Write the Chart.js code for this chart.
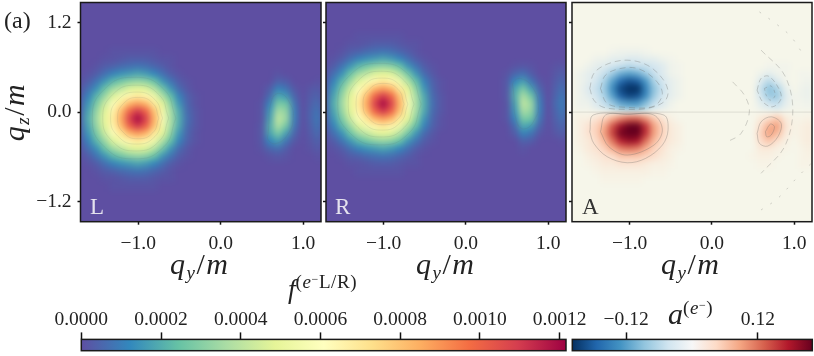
<!DOCTYPE html>
<html>
<head>
<meta charset="utf-8">
<script src="https://cdn.jsdelivr.net/npm/chart.js@4"></script>
<style>
  html, body { margin: 0; padding: 0; background: #fff; }
  body { width: 814px; height: 356px; overflow: hidden; position: relative; font-family: "Liberation Serif", serif; color: #222; }
  canvas { position: absolute; }
  .t { position: absolute; white-space: nowrap; line-height: 1; }
  .t i { font-style: italic; }
  .lab { font-size: 30px; letter-spacing: 1.5px; }
  .lab sub { font-size: 19px; font-style: italic; vertical-align: -5px; line-height: 0; }
  .sup { font-size: 19px; letter-spacing: 0.6px; vertical-align: 10px; line-height: 0; }
  .minus { font-size: 12px; vertical-align: 5px; }
</style>
</head>
<body>
<canvas id="panelL"></canvas>
<canvas id="panelR"></canvas>
<canvas id="panelA"></canvas>
<canvas id="barF"></canvas>
<canvas id="barA"></canvas>

<div class="t" style="left:4px;top:8px;font-size:24px">(a)</div>
<div class="t lab" style="left:-21px;top:97px;transform:rotate(-90deg);width:70px;text-align:center"><i>q</i><sub>z</sub>/<i>m</i></div>
<div class="t lab" style="left:170px;top:249px"><i>q</i><sub>y</sub>/<i>m</i></div>
<div class="t lab" style="left:416px;top:249px"><i>q</i><sub>y</sub>/<i>m</i></div>
<div class="t lab" style="left:661px;top:249px"><i>q</i><sub>y</sub>/<i>m</i></div>
<div class="t" style="left:288px;top:276px;font-size:27px"><i>f</i><span class="sup">(<i>e</i><span class="minus">−</span>L/R)</span></div>
<div class="t" style="left:668px;top:299px;font-size:30px"><i>a</i><span class="sup">(<i>e</i><span class="minus">−</span>)</span></div>
<div class="t" style="left:90px;top:195px;font-size:23px;color:#e4e2ee">L</div>
<div class="t" style="left:335px;top:195px;font-size:23px;color:#e4e2ee">R</div>
<div class="t" style="left:582px;top:195px;font-size:23px;color:#333">A</div>

<script>
// grid of the heat maps
const qyGrid = [-1.7,-1.6,-1.5,-1.4,-1.3,-1.2,-1.1,-1.0,-0.9,-0.8,-0.7,-0.6,-0.5,-0.4,-0.3,-0.2,-0.1,0,0.1,0.2,0.3,0.4,0.5,0.6,0.7,0.8,0.9,1.0,1.1,1.2];
const qzGrid = [1.0,0.9,0.8,0.7,0.6,0.5,0.4,0.3,0.2,0.1,0,-0.1,-0.2,-0.3,-0.4,-0.5,-0.6,-0.7,-0.8,-0.9,-1.0];

// f values of the L panel, in 1e-5
const fLeft = [
  [],
  [],
  [0,0,0,0,1,1,1,1,1,1,0,0,0,0,0,0],
  [0,0,0,1,1,2,3,3,3,2,1,1,0,0,0,0],
  [0,0,1,3,4,6,7,8,7,5,3,1,0,0,0,0],
  [0,1,3,7,11,14,16,18,16,12,7,3,1,0,0,0,0,0,0,0,0,0,0,0,1,0,0,0,0,0],
  [1,3,8,15,22,27,31,33,31,25,15,8,3,1,0,0,0,0,0,0,0,0,0,0,4,3,0,0,0,1],
  [2,7,14,25,35,41,47,49,47,39,27,15,6,2,0,0,0,0,0,0,0,0,0,3,11,8,2,0,2,3],
  [4,11,22,34,47,56,64,68,64,54,38,24,11,4,1,0,0,0,0,0,0,0,0,6,19,16,5,0,3,5],
  [6,15,28,43,59,70,83,88,83,68,49,31,15,5,1,0,0,0,0,0,0,0,1,11,28,26,8,0,4,7],
  [7,18,33,48,65,82,100,110,100,80,55,36,19,6,2,0,0,0,0,0,0,0,1,15,36,32,10,0,5,9],
  [8,20,35,50,68,86,108,120,108,84,58,37,20,7,2,0,0,0,0,0,0,0,1,17,41,34,10,0,5,10],
  [7,18,33,48,65,82,100,110,100,80,55,36,19,6,2,0,0,0,0,0,0,0,2,20,37,27,8,0,4,9],
  [6,15,28,43,59,70,83,88,83,68,49,31,15,5,1,0,0,0,0,0,0,0,2,18,28,17,5,0,3,7],
  [4,11,22,34,47,56,64,68,64,54,38,24,11,4,1,0,0,0,0,0,0,0,2,12,17,8,2,0,2,5],
  [2,7,14,25,35,41,47,49,47,39,27,15,6,2,0,0,0,0,0,0,0,0,1,5,7,3,0,0,1,3],
  [1,3,8,15,22,27,31,33,31,25,15,8,3,1,0,0,0,0,0,0,0,0,0,1,2,1,0,0,0,1],
  [0,1,3,7,11,14,16,18,16,12,7,3,1,0,0,0],
  [0,0,1,3,4,6,7,8,7,5,3,1,0,0,0,0],
  [0,0,0,1,1,2,3,3,3,2,1,1,0,0,0,0],
  [0,0,0,0,1,1,1,1,1,1,0,0,0,0,0,0]
];

// f values of the R panel, in 1e-5
const fRight = [
  [0,0,0,0,1,1,1,1,1,1,0,0,0,0,0,0],
  [0,0,0,1,1,2,3,3,3,2,1,1,0,0,0,0],
  [0,0,1,3,4,6,7,8,7,5,3,1,0,0,0,0],
  [0,1,3,7,11,14,16,18,16,12,7,3,1,0,0,0],
  [1,3,8,15,22,27,31,33,31,25,15,8,3,1,0,0,0,0,0,0,0,0,0,1,2,1,0,0,1,2],
  [2,7,14,25,35,41,47,49,47,39,27,15,6,2,0,0,0,0,0,0,0,0,1,5,7,3,0,0,2,4],
  [4,11,22,34,47,56,64,68,64,54,38,24,11,4,1,0,0,0,0,0,0,0,2,12,17,8,2,0,3,6],
  [6,15,28,43,59,70,83,88,83,68,49,31,15,5,1,0,0,0,0,0,0,0,2,18,28,17,5,0,4,8],
  [7,18,33,48,65,82,100,110,100,80,55,36,19,6,2,0,0,0,0,0,0,0,2,20,37,27,8,0,5,10],
  [8,20,35,50,68,86,108,120,108,84,58,37,20,7,2,0,0,0,0,0,0,0,1,17,41,34,10,0,6,11],
  [7,18,33,48,65,82,100,110,100,80,55,36,19,6,2,0,0,0,0,0,0,0,1,15,36,32,10,0,5,10],
  [6,15,28,43,59,70,83,88,83,68,49,31,15,5,1,0,0,0,0,0,0,0,1,11,28,26,8,0,4,8],
  [4,11,22,34,47,56,64,68,64,54,38,24,11,4,1,0,0,0,0,0,0,0,0,6,19,16,5,0,3,6],
  [2,7,14,25,35,41,47,49,47,39,27,15,6,2,0,0,0,0,0,0,0,0,0,3,11,8,2,0,2,4],
  [1,3,8,15,22,27,31,33,31,25,15,8,3,1,0,0,0,0,0,0,0,0,0,0,4,3,0,0,0,1],
  [0,1,3,7,11,14,16,18,16,12,7,3,1,0,0,0,0,0,0,0,0,0,0,0,1,0,0,0,0,0],
  [0,0,1,3,4,6,7,8,7,5,3,1,0,0,0,0],
  [0,0,0,1,1,2,3,3,3,2,1,1,0,0,0,0],
  [0,0,0,0,1,1,1,1,1,1,0,0,0,0,0,0],
  [],
  []
];

// a values of the A panel, in 0.01
const aMap = [
  [],
  [],
  [0,0,0,0,0,-0.5,-1,-1,-1,-0.5],
  [0,0,0,-1,-1,-2,-2,-3,-3,-2,-2,-1,-0.5],
  [0,0,-1,-2,-3,-4,-5,-6,-5,-5,-4,-3,-1,-0.5,0,0,0,0,0,0,0,0,0,0,-0.5,-0.5,-0.5],
  [0,-1,-2,-3,-5,-8,-11,-12,-11,-8,-5,-3,-1,-0.5,0,0,0,0,0,0,0,0,0,-1,-2,-1,-0.5,0,-0.5,-0.5],
  [0,-1,-2,-4,-7,-12,-17,-19,-18,-13,-7,-4,-2,-1,0,0,0,0,0,0,0,0,0,-3,-6,-3,-0.5,0,-0.5,-1],
  [0,-1,-3,-5,-8,-14,-20,-23,-22,-15,-9,-5,-2,-1,0,0,0,0,0,0,0,0,0,-5,-9,-7,-2,0,-1,-1.5],
  [0,-1,-2,-4,-7,-12,-18,-20,-19,-14,-8,-4,-2,-1,0,0,0,0,0,0,0,0,0,-4,-8,-8,-3,-0.5,-1,-1.5],
  [0,-1,-1,-3,-5,-8,-11,-12,-12,-9,-5,-3,-1,0,0,0,0,0,0,0,0,0,0,-2,-4,-5,-2,-0.5,-0.5,-1],
  [],
  [0,1,1,3,5,8,11,13,13,10,6,3,1,0,0,0,0,0,0,0,0,0,0,2,4,6,2,0.5,0.5,1],
  [0,1,3,5,8,14,19,22,22,16,9,5,2,1,0,0,0,0,0,0,0,0,0,4,8,9,3,0.5,1,2],
  [0,1,3,5,9,15,21,24,23,16,9,5,2,1,0,0,0,0,0,0,0,0,0,5,9,7,2,0.5,1,2],
  [0,1,2,4,7,12,17,19,18,12,7,4,2,1,0,0,0,0,0,0,0,0,0,4,6,3,1,0,1,2],
  [0,0.5,2,3,5,8,11,12,11,8,5,3,1,0.5,0,0,0,0,0,0,0,0,0,2,2,1,0.5,0,0.5,1.5],
  [0,0,1,2,3,4,6,6,6,5,4,2,1,0,0,0,0,0,0,0,0,0,0.5,1,1,0.5,0,0,0.5,1],
  [0,0,0.5,1,2,2,3,3,3,2,1,1,0.5,0,0,0,0,0,0,0,0,0,0,0.5,0.5,0,0,0,0.5,0.5],
  [0,0,0,0.5,1,1,1,1,1,1,0.5,0.5],
  [0,0,0,0,0.5,0.5,0.5,0.5,0.5],
  []
];

// level lines of the L panel, [qy, qz]
const ringL1 = [[-0.543,-0.08],[-0.69,0.306],[-1.05,0.466],[-1.41,0.306],[-1.557,-0.08],[-1.41,-0.466],[-1.05,-0.626],[-0.69,-0.466],[-0.543,-0.08]];
const ringL2 = [[-0.63,-0.08],[-0.747,0.231],[-1.03,0.36],[-1.313,0.231],[-1.43,-0.08],[-1.313,-0.391],[-1.03,-0.52],[-0.747,-0.391],[-0.63,-0.08]];
const ringL3 = [[-0.705,-0.08],[-0.797,0.166],[-1.02,0.268],[-1.243,0.166],[-1.335,-0.08],[-1.243,-0.326],[-1.02,-0.428],[-0.797,-0.326],[-0.705,-0.08]];
const ringL4 = [[-0.75,-0.08],[-0.823,0.116],[-1,0.197],[-1.177,0.116],[-1.25,-0.08],[-1.177,-0.276],[-1,-0.357],[-0.823,-0.276],[-0.75,-0.08]];
const sideL = [[0.577,-0.263],[0.618,0.16],[0.719,0.25],[0.84,0.116],[0.88,-0.063],[0.82,-0.285],[0.679,-0.419],[0.577,-0.374],[0.577,-0.263]];

// level lines of the R panel, [qy, qz]
const ringR1 = [[-0.543,0.107],[-0.69,0.493],[-1.05,0.653],[-1.41,0.493],[-1.557,0.107],[-1.41,-0.279],[-1.05,-0.439],[-0.69,-0.279],[-0.543,0.107]];
const ringR2 = [[-0.63,0.107],[-0.747,0.418],[-1.03,0.547],[-1.313,0.418],[-1.43,0.107],[-1.313,-0.204],[-1.03,-0.333],[-0.747,-0.204],[-0.63,0.107]];
const ringR3 = [[-0.705,0.107],[-0.797,0.353],[-1.02,0.455],[-1.243,0.353],[-1.335,0.107],[-1.243,-0.139],[-1.02,-0.241],[-0.797,-0.139],[-0.705,0.107]];
const ringR4 = [[-0.75,0.107],[-0.823,0.303],[-1,0.384],[-1.177,0.303],[-1.25,0.107],[-1.177,-0.089],[-1,-0.17],[-0.823,-0.089],[-0.75,0.107]];
const sideR = [[0.577,0.29],[0.618,-0.133],[0.719,-0.223],[0.84,-0.089],[0.88,0.09],[0.82,0.312],[0.679,0.446],[0.577,0.401],[0.577,0.29]];

// contour lines of the A panel, [qy, qz]
const blueOuter = [[-1.484,0.317],[-1.435,0.517],[-1.273,0.642],[-1.029,0.695],[-0.785,0.628],[-0.602,0.45],[-0.533,0.272],[-0.582,0.138],[-0.785,0.049],[-1.029,0.036],[-1.313,0.063],[-1.435,0.16],[-1.484,0.317]];
const blueInner = [[-1.354,0.317],[-1.293,0.495],[-1.11,0.584],[-0.907,0.584],[-0.704,0.45],[-0.602,0.25],[-0.704,0.08],[-1.029,0.063],[-1.273,0.116],[-1.354,0.317]];
const redOuter = [[-1.484,-0.263],[-1.443,-0.04],[-1.029,-0.027],[-0.582,-0.04],[-0.533,-0.241],[-0.602,-0.441],[-0.805,-0.619],[-1.029,-0.678],[-1.273,-0.597],[-1.435,-0.419],[-1.484,-0.263]];
const redInner = [[-1.354,-0.263],[-1.293,-0.04],[-1.029,-0.027],[-0.704,-0.04],[-0.602,-0.241],[-0.704,-0.441],[-1.029,-0.575],[-1.252,-0.464],[-1.354,-0.263]];
const blueSide = [[0.549,0.294],[0.597,0.45],[0.687,0.481],[0.801,0.338],[0.841,0.183],[0.739,0.071],[0.617,0.138],[0.549,0.294]];
const blueSideIn = [[0.638,0.317],[0.72,0.348],[0.768,0.227],[0.711,0.16],[0.659,0.227],[0.638,0.317]];
const redSide = [[0.549,-0.285],[0.597,-0.13],[0.72,-0.063],[0.841,-0.151],[0.801,-0.33],[0.678,-0.455],[0.577,-0.419],[0.549,-0.285]];
const redSideIn = [[0.65,-0.263],[0.711,-0.16],[0.76,-0.196],[0.72,-0.307],[0.666,-0.33],[0.65,-0.263]];
const arcMid = [[0.597,0.829],[0.882,0.495],[0.983,0.027],[0.882,-0.464],[0.597,-0.82]];
const arcIn = [[0.251,0.405],[0.394,0.227],[0.455,0.004],[0.354,-0.285],[0.19,-0.397]];
const arcTop = [[0.577,1.341],[0.801,1.163],[0.963,1.007],[1.126,0.74]];
const arcBottom = [[0.597,-1.31],[0.801,-1.154],[1.044,-0.865],[1.207,-0.686]];
const zeroLine = [[-1.7,0],[1.22,0]];

const qyRange = [-1.7, 1.216];
const qzRange = [-1.467, 1.467];
const qyTicks = [-1, 0, 1];
const qzTicks = [-1.2, 0, 1.2];
const fTicks = [0, 0.0002, 0.0004, 0.0006, 0.0008, 0.001, 0.0012];
const aTicks = [-0.12, 0.12];
const fRange = [0, 0.001216];
const aRange = [-0.218, 0.219];

const spectral = ["#5e4fa2","#3288bd","#66c2a5","#abdda4","#e6f598","#ffffbf","#fee08b","#fdae61","#f46d43","#d53e4f","#9e0142"];
const rdbu = ["#053061","#2166ac","#4393c3","#92c5de","#d1e5f0","#f7f7f7","#fddbc7","#f4a582","#d6604d","#b2182b","#67001f"];
const cream = "#f6f6ea";

function rgb(hex) {
  return [1, 3, 5].map((i) => parseInt(hex.slice(i, i + 2), 16));
}

function pick(stops, t) {
  t = Math.max(0, Math.min(1, t));
  const p = t * (stops.length - 1);
  const i = Math.min(Math.floor(p), stops.length - 2);
  const a = rgb(stops[i]);
  const b = rgb(stops[i + 1]);
  const c = a.map((v, k) => Math.round(v + (b[k] - v) * (p - i)));
  return `rgb(${c[0]},${c[1]},${c[2]})`;
}

function fColor(v) {
  return pick(spectral, (v * 1e-5) / fRange[1]);
}

// same map as the colorbar but the middle of the panel is cream
const rdbuCream = rdbu.map((c, i) => (i === 5 ? cream : c));
function aColor(v) {
  return pick(rdbuCream, 0.5 + (v * 0.01) / (aRange[1] - aRange[0]));
}

function cells(matrix) {
  const out = [];
  matrix.forEach((row, j) => {
    row.forEach((v, i) => {
      out.push({ x: qyGrid[i], y: qzGrid[j], v: v });
    });
  });
  return out;
}

function contour(points, dash, alpha, tone, tension) {
  return {
    data: points.map((p) => ({ x: p[0], y: p[1] })),
    showLine: true,
    tension: tension || 0.35,
    pointRadius: 0,
    borderWidth: 1,
    borderColor: `rgba(${tone || "110,110,105"},${alpha})`,
    borderDash: dash,
  };
}

// strokes the full frame round the plot area
const framePlugin = {
  id: "frame",
  afterDraw(chart) {
    const a = chart.chartArea;
    const ctx = chart.ctx;
    ctx.save();
    ctx.strokeStyle = "#1a1a1a";
    ctx.lineWidth = 1.5;
    ctx.strokeRect(a.left, a.top, a.right - a.left, a.bottom - a.top);
    ctx.restore();
  },
};

// smooths the heat cells, the heat dataset is the last one and so drawn first
const smoothPlugin = {
  id: "smooth",
  beforeDatasetsDraw(chart, args, opts) {
    const a = chart.chartArea;
    chart.ctx.save();
    chart.ctx.fillStyle = opts.base;
    chart.ctx.fillRect(a.left, a.top, a.right - a.left, a.bottom - a.top);
    chart.ctx.restore();
  },
  afterDatasetDraw(chart, args, opts) {
    if (args.index !== chart.data.datasets.length - 1) return;
    const a = chart.chartArea;
    const m = 20;
    const off = document.createElement("canvas");
    off.width = a.right - a.left + 2 * m;
    off.height = a.bottom - a.top + 2 * m;
    const o = off.getContext("2d");
    o.fillStyle = opts.base;
    o.fillRect(0, 0, off.width, off.height);
    o.drawImage(chart.canvas, a.left, a.top, a.right - a.left, a.bottom - a.top, m, m, a.right - a.left, a.bottom - a.top);
    const ctx = chart.ctx;
    ctx.save();
    ctx.beginPath();
    ctx.rect(a.left, a.top, a.right - a.left, a.bottom - a.top);
    ctx.clip();
    ctx.filter = "blur(3px)";
    ctx.drawImage(off, a.left - m, a.top - m);
    ctx.restore();
  },
};

function axisStyle(tickLen) {
  return {
    grid: { drawOnChartArea: false, drawTicks: true, tickLength: tickLen, tickWidth: 1.5, tickColor: "#111" },
    border: { display: false },
  };
}

function signed(v, digits) {
  return v.toFixed(digits).replace("-", "−");
}

// label overhang must not push the plot area in
function noPadding(s) {
  s.paddingLeft = 0;
  s.paddingRight = 0;
  s.paddingTop = 0;
  s.paddingBottom = 0;
}

function makePanel(id, left, areaLeft, matrix, color, base, lines, showY) {
  const el = document.getElementById(id);
  el.width = 321.2 - 80.5 + areaLeft + 8;
  el.height = 262;
  el.style.left = left + "px";
  el.style.top = "0px";
  const heat = {
    data: cells(matrix),
    pointStyle: "rect",
    pointRadius: 6.6,
    pointBorderWidth: 0,
    pointBackgroundColor: (c) => (c.raw ? color(c.raw.v) : base),
  };
  new Chart(el, {
    type: "scatter",
    data: { datasets: lines.concat([heat]) },
    options: {
      responsive: false,
      animation: false,
      events: [],
      layout: { autoPadding: false, padding: { top: 2.5, right: 8, left: 0, bottom: 0 } },
      plugins: { legend: { display: false }, tooltip: { enabled: false }, smooth: { base: base } },
      scales: {
        x: {
          type: "linear",
          min: qyRange[0],
          max: qyRange[1],
          ...axisStyle(3),
          afterBuildTicks: (s) => { s.ticks = qyTicks.map((value) => ({ value })); },
          afterFit: (s) => { s.height = 40.3; noPadding(s); },
          ticks: {
            padding: 7,
            maxRotation: 0,
            autoSkip: false,
            color: "#222",
            font: { family: "Liberation Serif", size: 19.5 },
            callback: (v) => signed(v, 1),
          },
        },
        y: {
          type: "linear",
          min: qzRange[0],
          max: qzRange[1],
          ...axisStyle(3),
          afterBuildTicks: (s) => { s.ticks = qzTicks.map((value) => ({ value })); },
          afterFit: (s) => { s.width = areaLeft; noPadding(s); },
          ticks: {
            display: showY,
            padding: 6,
            color: "#222",
            font: { family: "Liberation Serif", size: 19.5 },
            callback: (v) => signed(v, 1),
          },
        },
      },
    },
    plugins: [smoothPlugin, framePlugin],
  });
}

function makeBar(id, left, width, padLeft, padRight, range, ticks, stops, digits) {
  const el = document.getElementById(id);
  el.width = width;
  el.height = 56;
  el.style.left = left + "px";
  el.style.top = "296px";
  new Chart(el, {
    type: "bar",
    data: {
      labels: [""],
      datasets: [
        {
          data: [range],
          barPercentage: 1,
          categoryPercentage: 1,
          backgroundColor: (c) => {
            const a = c.chart.chartArea;
            if (!a) return stops[0];
            const g = c.chart.ctx.createLinearGradient(a.left, 0, a.right, 0);
            stops.forEach((s, i) => g.addColorStop(i / (stops.length - 1), s));
            return g;
          },
        },
      ],
    },
    options: {
      indexAxis: "y",
      responsive: false,
      animation: false,
      events: [],
      layout: { autoPadding: false, padding: { left: padLeft, right: padRight, top: 0, bottom: 1.3 } },
      plugins: { legend: { display: false }, tooltip: { enabled: false } },
      scales: {
        y: { display: false },
        x: {
          type: "linear",
          position: "top",
          min: range[0],
          max: range[1],
          ...axisStyle(7),
          afterBuildTicks: (s) => { s.ticks = ticks.map((value) => ({ value })); },
          afterFit: (s) => { s.height = 43.4; noPadding(s); },
          ticks: {
            padding: 1,
            maxRotation: 0,
            autoSkip: false,
            color: "#222",
            font: { family: "Liberation Serif", size: 19.5 },
            callback: (v) => signed(v, digits),
          },
        },
      },
    },
    plugins: [framePlugin],
  });
}

const aLines = [
  contour(zeroLine, [], 0.18),
  contour(blueOuter, [6, 4], 0.32),
  contour(blueInner, [6, 4], 0.32),
  contour(redOuter, [], 0.32),
  contour(redInner, [], 0.32),
  contour(blueSide, [5, 3], 0.32),
  contour(blueSideIn, [3, 3], 0.3),
  contour(redSide, [], 0.32),
  contour(redSideIn, [], 0.32),
  contour(arcMid, [6, 4], 0.3),
  contour(arcIn, [6, 5], 0.3),
  contour(arcTop, [2, 9], 0.3),
  contour(arcBottom, [2, 9], 0.3),
];
const ringTone = "90,110,110";
const lLines = [ringL1, ringL2, ringL3, ringL4, sideL].map((r) => contour(r, [], 0.12, ringTone, 0.5));
const rLines = [ringR1, ringR2, ringR3, ringR4, sideR].map((r) => contour(r, [], 0.12, ringTone, 0.5));

makePanel("panelL", 0, 80.5, fLeft, fColor, spectral[0], lLines, true);
makePanel("panelR", 296, 30, fRight, fColor, spectral[0], rLines, false);
makePanel("panelA", 542, 30, aMap, aColor, cream, aLines, false);
makeBar("barF", 40, 560, 41.3, 34, fRange, fTicks, spectral, 4);
makeBar("barA", 530, 284, 42.3, 1.7, aRange, aTicks, rdbu, 2);
</script>
</body>
</html>
